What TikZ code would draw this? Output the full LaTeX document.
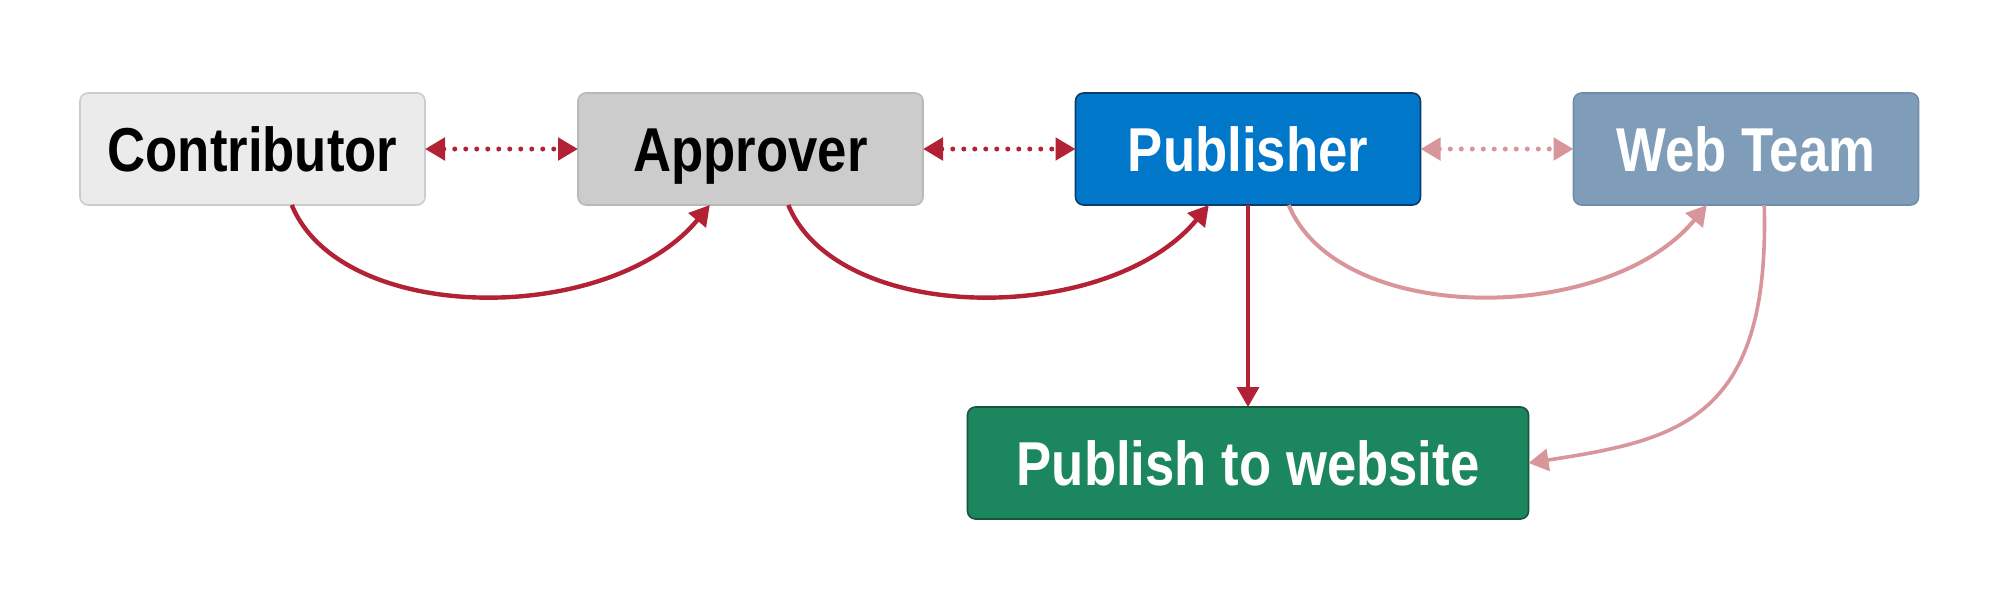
\documentclass[tikz,border=0pt]{standalone}
\usepackage{fontspec}
\setmainfont{Liberation Sans}[FakeStretch=0.85]
\usetikzlibrary{arrows.meta}
\definecolor{dred}{RGB}{178,34,52}
\definecolor{lred}{RGB}{216,149,154}
\definecolor{cfill}{RGB}{235,235,235}
\definecolor{cdraw}{RGB}{204,204,204}
\definecolor{afill}{RGB}{204,204,204}
\definecolor{adraw}{RGB}{185,185,185}
\definecolor{pfill}{RGB}{0,119,200}
\definecolor{pdraw}{RGB}{12,60,105}
\definecolor{wfill}{RGB}{127,157,185}
\definecolor{wdraw}{RGB}{112,142,170}
\definecolor{gfill}{RGB}{28,135,94}
\definecolor{gdraw}{RGB}{20,85,60}
\tikzset{
  box/.style={rectangle, rounded corners=4pt, line width=0.8pt, outer sep=0pt,
    minimum width=172.5pt, minimum height=56pt, inner sep=0pt,
    text height=22.5pt, text depth=0pt,
    font=\fontsize{31}{36}\selectfont\bfseries},
  tip/.style={-{Triangle[length=10pt,width=11pt]}},
  dtip/.style={{Triangle[length=10pt,width=11pt]}-{Triangle[length=10pt,width=11pt]}},
  dots/.style={dtip, line width=2.5pt, line cap=round, dash pattern=on 0pt off 5.5pt},
  curve/.style={tip, line width=2.2pt}
}
\begin{document}
\begin{tikzpicture}[x=0.5pt,y=-0.5pt]
\useasboundingbox (0,0) rectangle (2000,600);
\node[box, fill=cfill, draw=cdraw, text=black] (con) at (252.5,149) {Contributor};
\node[box, fill=afill, draw=adraw, text=black] (app) at (750.5,149) {Approver};
\node[box, fill=pfill, draw=pdraw, text=white] (pub) at (1248,149) {Publisher};
\node[box, fill=wfill, draw=wdraw, text=white] (web) at (1746,149) {Web Team};
\node[box, fill=gfill, draw=gdraw, text=white, minimum width=280.5pt] (site) at (1248,463) {Publish to website};
% dotted links
\draw[dots, dred] (con.east) -- (app.west);
\draw[dots, dred] (app.east) -- (pub.west);
\draw[dots, lred] (pub.east) -- (web.west);
% curves
\draw[curve, dred] (con.-55.5) .. controls +(50,121) and +(-100,121) .. (app.-126);
\draw[curve, dred] (app.-56) .. controls +(50,121) and +(-100,121) .. (pub.-125);
\draw[curve, lred, line width=2pt] (pub.-54.5) .. controls +(50,121) and +(-100,121) .. (web.-125);
\draw[curve, lred, line width=1.8pt] (web.-72) .. controls +(6,215) and +(150,-23) .. (site.east);
\draw[tip, dred, line width=1.7pt] (pub.south) -- (site.north);
\end{tikzpicture}
\end{document}
